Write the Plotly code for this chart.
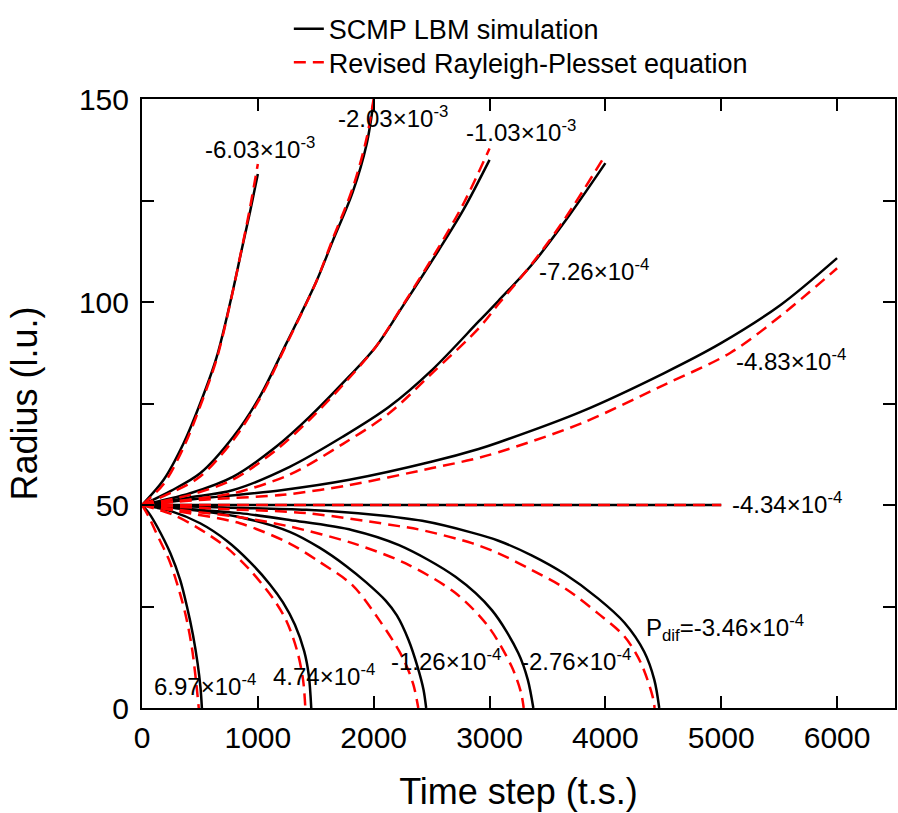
import plotly.graph_objects as go

# ---------------- data ----------------
p_labels = ["-6.03×10<sup>-3</sup>", "-2.03×10<sup>-3</sup>", "-1.03×10<sup>-3</sup>",
            "-7.26×10<sup>-4</sup>", "-4.83×10<sup>-4</sup>", "-4.34×10<sup>-4</sup>",
            "P<sub>dif</sub>=-3.46×10<sup>-4</sup>", "-2.76×10<sup>-4</sup>",
            "-1.26×10<sup>-4</sup>", "4.74×10<sup>-4</sup>", "6.97×10<sup>-4</sup>"]

# SCMP LBM simulation (black): time step and radius
lbm_t = [
    [0, 187, 359, 502, 645, 760, 860, 931, 1000],
    [0, 250, 502, 788, 1017, 1246, 1504, 1646, 1818, 1940, 2000],
    [0, 416, 788, 1160, 1446, 1732, 2019, 2247, 2562, 2780, 3000],
    [0, 400, 788, 1275, 1732, 2133, 2505, 2906, 3077, 3363, 3650, 4000],
    [0, 300, 645, 1217, 1790, 2505, 2906, 3077, 3792, 4508, 4994, 5509, 6000],
    [0, 5000],
    [0, 700, 1418, 2000, 2419, 2848, 3077, 3363, 3650, 3936, 4165, 4336, 4422, 4465],
    [0, 400, 845, 1275, 1818, 2219, 2706, 3020, 3249, 3330, 3378],
    [0, 300, 845, 1275, 1532, 1761, 1933, 2105, 2200, 2300, 2380, 2430, 2453],
    [0, 250, 502, 731, 931, 1103, 1217, 1320, 1400, 1440, 1461],
    [0, 60, 130, 245, 330, 388, 440, 480, 505, 517],
]
lbm_r = [
    [50, 56.2, 65.2, 75, 86.5, 99.7, 112.8, 122, 131.5],
    [50, 53.5, 57.8, 66.8, 76.7, 89.8, 105, 115, 127, 139, 149.5],
    [50, 52.9, 57, 64.4, 71.7, 80, 89, 98.8, 112.8, 123, 135],
    [50, 51.8, 53.7, 59.4, 66.8, 74.2, 83.3, 95.2, 100.3, 109.1, 119.8, 134.2],
    [50, 51, 52, 53.7, 56.2, 60.7, 63.8, 65.4, 73, 82.5, 89.8, 99.2, 110.8],
    [50, 50],
    [50, 49.4, 48.8, 47.6, 46.1, 43.2, 41.2, 37.6, 33, 27, 21, 13.8, 7, 0],
    [50, 49, 48, 46.3, 43.8, 40.1, 32.3, 24.1, 13.5, 7, 0],
    [50, 49.2, 47, 43.4, 39.5, 35, 31, 26.4, 22.8, 16.8, 10, 4.5, 0],
    [50, 48.5, 45.5, 41.2, 36, 30.5, 26, 20.5, 14, 8, 0],
    [50, 48, 44.7, 38.1, 31.5, 25, 18, 11, 5, 0],
]

# Revised Rayleigh-Plesset equation (red dashed): time step and radius
rp_t = [
    [0, 187, 359, 502, 645, 760, 860, 931, 1000],
    [0, 250, 502, 788, 1017, 1246, 1504, 1646, 1818, 1940, 2010],
    [0, 416, 788, 1160, 1446, 1732, 2019, 2247, 2562, 2780, 3000],
    [0, 400, 788, 1275, 1732, 2133, 2505, 2906, 3077, 3363, 3650, 4000],
    [0, 300, 645, 1217, 1790, 2505, 2848, 3077, 3792, 4508, 5080, 5509, 6000],
    [0, 5000],
    [0, 700, 1418, 2219, 2419, 2848, 3077, 3363, 3650, 3936, 4165, 4308, 4408, 4425],
    [0, 400, 845, 1275, 1818, 2276, 2706, 2991, 3191, 3270, 3295],
    [0, 300, 845, 1275, 1532, 1818, 2047, 2247, 2340, 2385],
    [0, 250, 474, 731, 931, 1131, 1246, 1340, 1390, 1410],
    [0, 60, 125, 240, 320, 380, 430, 465, 490],
]
rp_r = [
    [50, 55.2, 64.2, 74.3, 86, 99.5, 113, 123, 134],
    [50, 53, 57, 66, 76.2, 89.5, 105, 115.5, 128, 140.5, 152],
    [50, 52.5, 56.3, 63.6, 71, 79.5, 89, 99, 113.5, 124.5, 137.8],
    [50, 51.3, 52.9, 57.5, 65, 72.6, 82.5, 93.5, 99.5, 109.3, 120.5, 136.2],
    [50, 50.8, 51.5, 52.5, 54.9, 59.1, 61.2, 63, 70.1, 79.6, 87.5, 96.5, 108.3],
    [50, 50],
    [50, 49, 48, 44.8, 43.8, 40.6, 38.1, 34, 29.5, 23.3, 17.6, 11, 2.8, 0],
    [50, 48.5, 47, 44.7, 40.6, 35.6, 28.3, 20, 10.2, 4, 0],
    [50, 48.5, 45.5, 40.5, 36, 30.2, 21.7, 12.6, 6, 0],
    [50, 47.8, 44.5, 39.5, 34, 27, 21.5, 14, 7, 0],
    [50, 47, 43, 36, 29, 22.5, 15, 7, 0],
]

# label anchor positions (time step, radius)
label_t = [1017, 2163, 3275, 3902, 5605, 5571, 5032, 3742, 2620, 1575, 545]
label_r = [138, 145.6, 142, 107.9, 85.7, 50.4, 19.7, 11.8, 11.8, 8.1, 5.7]

x_ticks = [0, 1000, 2000, 3000, 4000, 5000, 6000]
y_ticks = [0, 25, 50, 75, 100, 125, 150]
y_ticktext = ["0", "", "50", "", "100", "", "150"]

FONT = "Arial, Liberation Sans, sans-serif"

fig = go.Figure()

for i, (t, r) in enumerate(zip(lbm_t, lbm_r)):
    fig.add_trace(go.Scatter(x=t, y=r, mode="lines",
                             line=dict(color="black", width=2.5, shape="spline", smoothing=0.9),
                             name="SCMP LBM simulation", legendgroup="lbm", showlegend=(i == 0),
                             legend="legend"))
for i, (t, r) in enumerate(zip(rp_t, rp_r)):
    fig.add_trace(go.Scatter(x=t, y=r, mode="lines",
                             line=dict(color="#ff0000", width=2.5, dash="12px,7px", shape="spline", smoothing=0.9),
                             name="Revised Rayleigh-Plesset equation", legendgroup="rp", showlegend=(i == 0),
                             legend="legend2"))

for lab, lt, lr in zip(p_labels, label_t, label_r):
    fig.add_annotation(x=lt, y=lr, text=lab, showarrow=False, xanchor="center", yanchor="middle",
                       font=dict(family=FONT, size=24, color="black"))

legend_font = dict(family=FONT, size=27, color="black")
fig.update_layout(
    width=898, height=813,
    margin=dict(l=142, r=1, t=99, b=105),
    paper_bgcolor="white", plot_bgcolor="white",
    font=dict(family=FONT, color="black"),
    showlegend=True,
    legend=dict(x=0.195, y=1.155, xanchor="left", yanchor="top", bgcolor="rgba(0,0,0,0)", font=legend_font),
    legend2=dict(x=0.195, y=1.100, xanchor="left", yanchor="top", bgcolor="rgba(0,0,0,0)", font=legend_font),
)
fig.update_xaxes(range=[0, 6500], tickvals=x_ticks, ticks="inside", ticklen=12, tickwidth=2, tickcolor="black",
                 showline=True, linewidth=2, linecolor="black", mirror="ticks", showgrid=False, zeroline=False,
                 tickfont=dict(family=FONT, size=30, color="black"), ticklabelstandoff=2,
                 title=dict(text="Time step (t.s.)", font=dict(family=FONT, size=36, color="black"), standoff=26))
fig.update_yaxes(range=[0, 150], tickvals=y_ticks, ticktext=y_ticktext, ticks="inside", ticklen=12, tickwidth=2,
                 tickcolor="black", showline=True, linewidth=2, linecolor="black", mirror="ticks",
                 showgrid=False, zeroline=False, ticklabelstandoff=5,
                 tickfont=dict(family=FONT, size=30, color="black"),
                 title=dict(text="Radius (l.u.)", font=dict(family=FONT, size=36, color="black"), standoff=30))

fig.write_html("out.html")
